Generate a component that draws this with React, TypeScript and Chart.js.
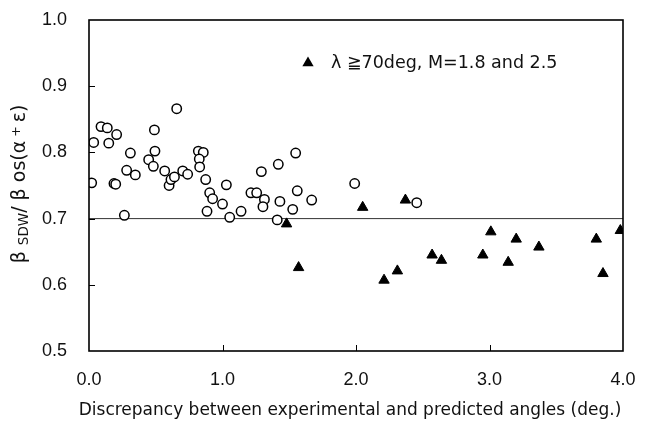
import React, { useEffect, useRef } from 'react';
import { Chart, registerables } from 'chart.js';

Chart.register(...registerables);

// Open circles (all data)
const circleX = [
  0.02, 0.035, 0.09, 0.137, 0.148, 0.207, 0.187, 0.2, 0.265, 0.31,
  0.282, 0.347, 0.447, 0.49, 0.494, 0.482, 0.567, 0.6, 0.614, 0.64,
  0.657, 0.702, 0.739, 0.819, 0.856, 0.826, 0.829, 0.874, 0.904, 0.926,
  0.884, 1.0, 1.029, 1.054, 1.139, 1.213, 1.256, 1.291, 1.314, 1.303,
  1.418, 1.43, 1.41, 1.548, 1.56, 1.526, 1.668, 1.99, 2.455,
];
const circleY = [
  0.754, 0.815, 0.839, 0.837, 0.814, 0.827, 0.753, 0.752, 0.705, 0.799,
  0.773, 0.766, 0.789, 0.834, 0.802, 0.779, 0.772, 0.75, 0.759, 0.763,
  0.866, 0.772, 0.767, 0.802, 0.8, 0.79, 0.778, 0.759, 0.739, 0.73,
  0.711, 0.722, 0.751, 0.702, 0.711, 0.739, 0.739, 0.771, 0.729, 0.718,
  0.782, 0.726, 0.698, 0.799, 0.742, 0.714, 0.728, 0.753, 0.724,
];

// Filled triangles: lambda >= 70deg, M=1.8 and 2.5
const triangleX = [
  1.48, 1.57, 2.05, 2.37, 2.21, 2.31, 2.57, 2.64, 2.95, 3.01,
  3.14, 3.2, 3.37, 3.8, 3.85, 3.98,
];
const triangleY = [
  0.692, 0.626, 0.717, 0.728, 0.607, 0.621, 0.645, 0.637, 0.645, 0.68,
  0.634, 0.669, 0.657, 0.669, 0.617, 0.682,
];

const xRange = [0, 4];
const yRange = [0.5, 1.0];
const xStep = 1;
const yStep = 0.1;
const referenceY = 0.7;

const legendLabel = 'λ ≧70deg, M=1.8 and 2.5';
const xTitle = 'Discrepancy between experimental and predicted angles (deg.)';
// y title pieces: [text, font size, baseline shift]
const yTitleParts: [string, number, number][] = [
  ['β ', 19, 0],
  ['SDW', 13.5, 4],
  ['/ β os(α', 19, 0],
  [' + ', 12.5, -3],
  ['ε)', 19, 0],
];

const FONT = '"Liberation Sans", Arial, sans-serif';
const WIDE_FONT = '"DejaVu Sans", sans-serif';
const INK = '#111';

export default function App() {
  const ref = useRef<HTMLCanvasElement | null>(null);

  useEffect(() => {
    document.body.style.margin = '0';
    const canvas = ref.current;
    if (!canvas) return;

    const framePlugin = {
      id: 'frame',
      afterDatasetsDraw(chart: any) {
        const { ctx, chartArea } = chart;
        const xs = chart.scales.x;
        const ys = chart.scales.y;
        const { left, right, top, bottom } = chartArea;
        ctx.save();
        ctx.strokeStyle = '#000';
        ctx.lineWidth = 1.6;
        ctx.strokeRect(left, top, right - left, bottom - top);
        ctx.lineWidth = 1;
        const tl = 6;
        for (let v = xRange[0] + xStep; v < xRange[1] - 1e-9; v += xStep) {
          const px = Math.round(xs.getPixelForValue(v)) + 0.5;
          ctx.beginPath();
          ctx.moveTo(px, bottom);
          ctx.lineTo(px, bottom - tl);
          ctx.stroke();
        }
        for (let v = yRange[0] + yStep; v < yRange[1] - 1e-9; v += yStep) {
          const py = Math.round(ys.getPixelForValue(v)) + 0.5;
          ctx.beginPath();
          ctx.moveTo(left, py);
          ctx.lineTo(left + tl, py);
          ctx.stroke();
        }
        // legend
        const lx = left + 219;
        const ly = top + 43;
        ctx.fillStyle = '#000';
        const r = 6.5;
        ctx.beginPath();
        ctx.moveTo(lx, ly - r);
        ctx.lineTo(lx + r * 0.866, ly + r * 0.5);
        ctx.lineTo(lx - r * 0.866, ly + r * 0.5);
        ctx.closePath();
        ctx.fill();
        ctx.font = `17.5px ${WIDE_FONT}`;
        ctx.fillStyle = INK;
        ctx.textAlign = 'left';
        ctx.textBaseline = 'middle';
        ctx.fillText(legendLabel, lx + 23, ly);

        // x title
        ctx.textAlign = 'center';
        ctx.textBaseline = 'middle';
        ctx.font = `17px ${WIDE_FONT}`;
        ctx.fillText(xTitle, 350, 411);

        // y title (rotated)
        ctx.save();
        ctx.translate(20, 184);
        ctx.rotate(-Math.PI / 2);
        let total = 0;
        for (const [t, s] of yTitleParts) {
          ctx.font = `${s}px ${WIDE_FONT}`;
          total += ctx.measureText(t).width;
        }
        let cx = -total / 2;
        ctx.textAlign = 'left';
        for (const [t, s, dy] of yTitleParts) {
          ctx.font = `${s}px ${WIDE_FONT}`;
          ctx.fillText(t, cx, dy);
          cx += ctx.measureText(t).width;
        }
        ctx.restore();
        ctx.restore();
      },
    };

    const chart = new Chart(canvas, {
      type: 'scatter',
      data: {
        datasets: [
          {
            label: legendLabel,
            data: triangleX.map((x, i) => ({ x, y: triangleY[i] })),
            pointStyle: 'triangle',
            pointRadius: 6,
            backgroundColor: '#000',
            borderColor: '#000',
            borderWidth: 1,
          },
          {
            label: 'data',
            data: circleX.map((x, i) => ({ x, y: circleY[i] })),
            pointStyle: 'circle',
            pointRadius: 4.7,
            backgroundColor: '#fff',
            borderColor: '#000',
            borderWidth: 1.5,
          },
          {
            type: 'line',
            label: 'ref',
            data: [
              { x: xRange[0], y: referenceY },
              { x: xRange[1], y: referenceY },
            ],
            borderColor: '#333',
            borderWidth: 1,
            pointRadius: 0,
            showLine: true,
          } as any,
        ],
      },
      options: {
        animation: false,
        responsive: false,
        layout: { padding: { top: 20, right: 27, left: 0, bottom: 0 } },
        plugins: {
          legend: { display: false },
          tooltip: { enabled: false },
        },
        scales: {
          x: {
            type: 'linear',
            min: xRange[0],
            max: xRange[1],
            grid: { display: false, drawTicks: false },
            border: { display: false },
            ticks: {
              stepSize: xStep,
              padding: 18,
              color: INK,
              font: { family: FONT, size: 18 },
              callback: (v: any) => Number(v).toFixed(1),
            },
            afterFit: (s: any) => {
              s.height = 70;
              s.paddingLeft = 0;
              s.paddingRight = 0;
            },
          },
          y: {
            type: 'linear',
            min: yRange[0],
            max: yRange[1],
            grid: { display: false, drawTicks: false },
            border: { display: false },
            ticks: {
              stepSize: yStep,
              padding: 22,
              color: INK,
              font: { family: FONT, size: 18 },
              callback: (v: any) => Number(v).toFixed(1),
            },
            afterFit: (s: any) => {
              s.width = 89;
              s.paddingTop = 0;
              s.paddingBottom = 0;
            },
          },
        },
      },
      plugins: [framePlugin],
    });
    return () => chart.destroy();
  }, []);

  return (
    <div style={{ width: 650, height: 421, background: '#fff' }}>
      <canvas ref={ref} width={650} height={421} />
    </div>
  );
}
